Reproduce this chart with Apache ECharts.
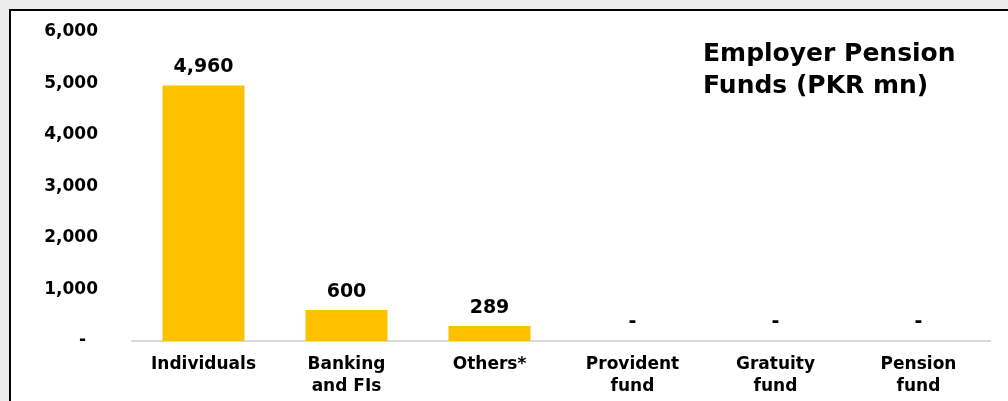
<!DOCTYPE html>
<html>
<head>
<meta charset="utf-8">
<script src="https://cdn.jsdelivr.net/npm/echarts@6/dist/echarts.min.js"></script>
<style>
html,body{margin:0;padding:0;width:1008px;height:401px;background:#ececec;overflow:hidden;}
#frame{position:absolute;left:9px;top:9px;width:999px;height:392px;background:#fff;border-top:2px solid #000;border-left:2px solid #000;box-sizing:border-box;}
#chart{position:absolute;left:0;top:0;width:1008px;height:401px;}
</style>
</head>
<body>
<div id="frame"></div>
<div id="chart"></div>
<script>
const categories = ['Individuals', 'Banking\nand FIs', 'Others*', 'Provident\nfund', 'Gratuity\nfund', 'Pension\nfund'];
const values = [4960, 600, 289, 0, 0, 0];
const yTicks = [0, 1000, 2000, 3000, 4000, 5000, 6000];
const titleText = 'Employer Pension\nFunds (PKR mn)';

const font = 'DejaVu Sans';
const chart = echarts.init(document.getElementById('chart'), null, {renderer: 'canvas'});
chart.setOption({
  backgroundColor: 'transparent',
  animation: false,
  title: {
    text: titleText,
    left: 698,
    top: 33,
    textStyle: {fontFamily: font, fontWeight: 'bold', fontSize: 25, lineHeight: 32, color: '#000'}
  },
  grid: {left: 132, right: 18, top: 32, bottom: 60},
  xAxis: {
    type: 'category',
    data: categories,
    axisLine: {lineStyle: {color: '#d9d9d9', width: 2}},
    axisTick: {show: false},
    axisLabel: {fontFamily: font, fontWeight: 'bold', fontSize: 17, lineHeight: 22, color: '#000', margin: 13, interval: 0}
  },
  yAxis: {
    type: 'value',
    min: yTicks[0],
    max: yTicks[yTicks.length - 1],
    interval: 1000,
    splitLine: {show: false},
    axisLine: {show: false},
    axisTick: {show: false},
    axisLabel: {
      fontFamily: font, fontWeight: 'bold', fontSize: 17, color: '#000', margin: 34,
      formatter: v => v === 0 ? '{d|-}' : v.toLocaleString('en-US'),
      rich: {d: {fontFamily: font, fontWeight: 'bold', fontSize: 17, color: '#000', padding: [0, 12, 0, 0]}}
    }
  },
  series: [{
    type: 'bar',
    data: values,
    barWidth: 82,
    itemStyle: {color: '#FFC000'},
    label: {
      show: true,
      position: 'top',
      distance: 9,
      fontFamily: font, fontWeight: 'bold', fontSize: 19, color: '#000',
      formatter: p => p.value === 0 ? '-' : p.value.toLocaleString('en-US')
    }
  }]
});
</script>
</body>
</html>
